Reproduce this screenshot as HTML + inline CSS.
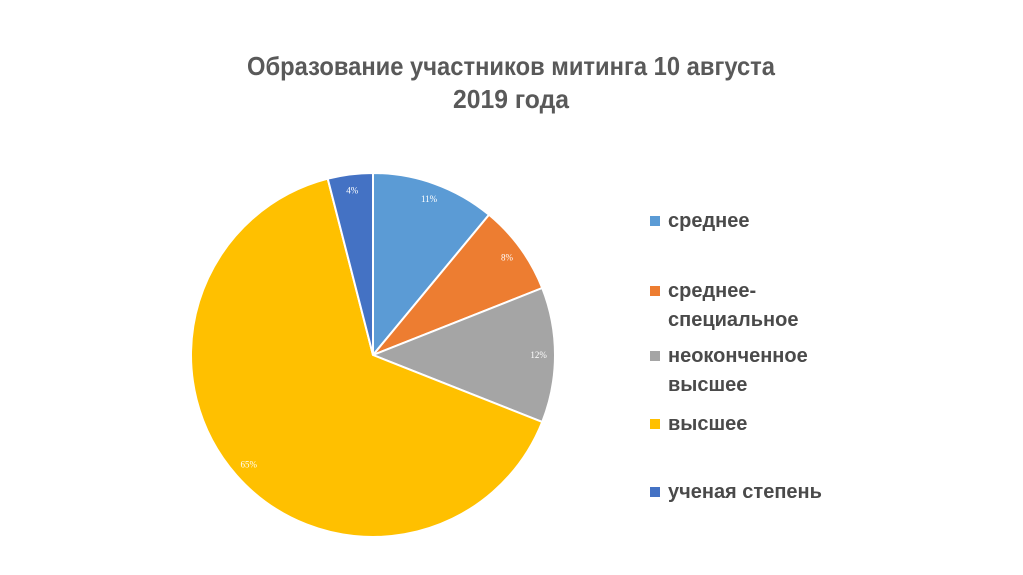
<!DOCTYPE html>
<html><head><meta charset="utf-8"><style>
html,body{margin:0;padding:0;background:#fff;width:1023px;height:575px;overflow:hidden}
svg text{font-family:"Liberation Sans Narrow","Liberation Sans",sans-serif;font-weight:bold}
</style></head><body>
<svg id="chart" width="1023" height="575">
<text x="511" y="75" text-anchor="middle" font-size="26" fill="#595959" textLength="528" lengthAdjust="spacingAndGlyphs">Образование участников митинга 10 августа</text>
<text x="511" y="108" text-anchor="middle" font-size="26" fill="#595959" textLength="116" lengthAdjust="spacingAndGlyphs">2019 года</text>
<g id="slices"></g>
<g id="legend"></g>
</svg>
<script>
const categories=["среднее","среднее-специальное","неоконченное высшее","высшее","ученая степень"];
const values=[11,8,12,65,4];
const labels=["11%","8%","12%","65%","4%"];
const colors=["#5b9bd5","#ed7d31","#a5a5a5","#ffc000","#4472c4"];
const legendLines=[["среднее"],["среднее-","специальное"],["неоконченное","высшее"],["высшее"],["ученая степень"]];
const legendY=[227,297,362,430,498];
const NS="http://www.w3.org/2000/svg";
const cx=373,cy=355,r=182;
const total=values.reduce((a,b)=>a+b,0);
const sg=document.getElementById('slices');
function pt(a,rr){return [cx+rr*Math.sin(a),cy-rr*Math.cos(a)];}
let acc=0;
values.forEach((v,i)=>{
  const a0=acc/total*2*Math.PI;acc+=v;const a1=acc/total*2*Math.PI;
  const p0=pt(a0,r),p1=pt(a1,r);
  const p=document.createElementNS(NS,'path');
  p.setAttribute('d',`M${cx},${cy}L${p0[0]},${p0[1]}A${r},${r} 0 ${a1-a0>Math.PI?1:0} 1 ${p1[0]},${p1[1]}Z`);
  p.setAttribute('fill',colors[i]);p.setAttribute('stroke','#fff');p.setAttribute('stroke-width','2');
  
  
  sg.appendChild(p);
  const m=(a0+a1)/2,lp=pt(m,r*0.91);
  const t=document.createElementNS(NS,'text');
  t.setAttribute('x',lp[0]);t.setAttribute('y',lp[1]+3);t.setAttribute('text-anchor','middle');
  t.setAttribute('font-size','9');t.setAttribute('fill','#fff');
  t.setAttribute('style','font-family:"Liberation Serif",serif;font-weight:normal');
  t.textContent=labels[i];
  
  
  sg.appendChild(t);
});
const lg=document.getElementById('legend');
categories.forEach((c,i)=>{
  const g=document.createElementNS(NS,'g');
  
  
  const s=document.createElementNS(NS,'rect');
  s.setAttribute('x',650);s.setAttribute('y',legendY[i]-11);s.setAttribute('width',10);s.setAttribute('height',10);
  s.setAttribute('fill',colors[i]);
  g.appendChild(s);
  legendLines[i].forEach((ln,j)=>{
    const t=document.createElementNS(NS,'text');
    t.setAttribute('x',668);t.setAttribute('y',legendY[i]+j*29);t.setAttribute('font-size','20');t.setAttribute('fill','#4a4a4a');
    t.textContent=ln;g.appendChild(t);
  });
  lg.appendChild(g);
});
</script>
</body></html>
